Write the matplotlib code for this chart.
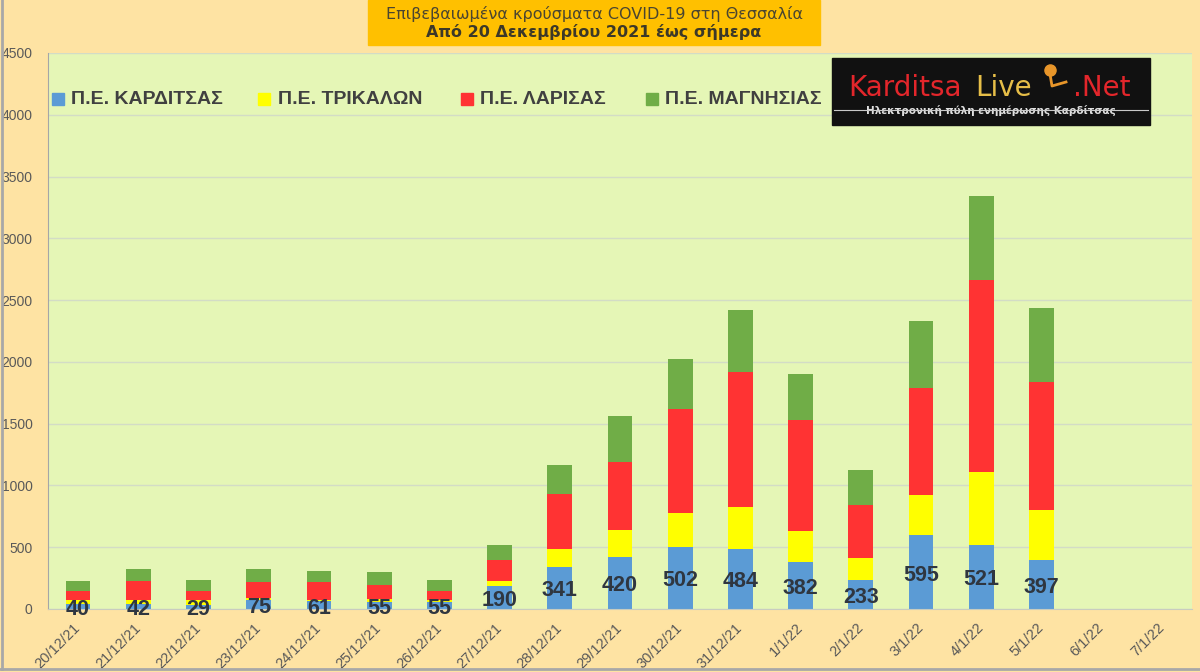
import matplotlib

matplotlib.use("Agg")
import matplotlib.pyplot as plt  # noqa: E402
import numpy as np  # noqa: E402
from matplotlib.patches import Rectangle  # noqa: E402
from matplotlib.lines import Line2D  # noqa: E402

W, H = 1200, 672

dates = ["20/12/21", "21/12/21", "22/12/21", "23/12/21", "24/12/21", "25/12/21",
         "26/12/21", "27/12/21", "28/12/21", "29/12/21", "30/12/21", "31/12/21",
         "1/1/22", "2/1/22", "3/1/22", "4/1/22", "5/1/22", "6/1/22", "7/1/22"]

karditsa = [40, 42, 29, 75, 61, 55, 55, 190, 341, 420, 502, 484, 382, 233, 595, 521, 397]
trikala = [30, 28, 41, 16, 9, 28, 15, 36, 146, 222, 276, 342, 250, 182, 326, 588, 403]
larisa = [73, 156, 73, 127, 148, 114, 73, 167, 442, 548, 837, 1091, 900, 425, 867, 1557, 1034]
magnisia = [83, 94, 94, 102, 92, 102, 94, 121, 234, 371, 412, 506, 372, 288, 541, 678, 600]

series = [("Π.Ε. ΚΑΡΔΙΤΣΑΣ", karditsa, "#5B9BD5"),
          ("Π.Ε. ΤΡΙΚΑΛΩΝ", trikala, "#FFFF00"),
          ("Π.Ε. ΛΑΡΙΣΑΣ", larisa, "#FF3333"),
          ("Π.Ε. ΜΑΓΝΗΣΙΑΣ", magnisia, "#70AD47")]

plt.rcParams["font.family"] = ["Liberation Sans", "DejaVu Sans"]


def fx(x):
    return x / W


def fy(y):
    return 1 - y / H


fig = plt.figure(figsize=(12, 6.72), dpi=100)
fig.patch.set_facecolor("#FEE3A3")

ax = fig.add_axes([fx(48), fy(609), fx(1192 - 48), (609 - 53) / H])
ax.set_facecolor("#E5F6B6")

x = np.arange(len(karditsa))
bottom = np.zeros(len(karditsa))
for name, vals, col in series:
    ax.bar(x, vals, width=0.41, bottom=bottom, color=col, zorder=2)
    bottom += np.array(vals)

for i, v in enumerate(karditsa):
    ax.annotate(str(v), xy=(i, v / 2), xytext=(0, -2), textcoords="offset points",
                ha="center", va="center", fontsize=15.5, fontweight="bold",
                color="#2F3640", zorder=4)

ax.set_xlim(-0.5, len(dates) - 0.5)
ax.set_ylim(0, 4500)
ax.set_yticks(np.arange(0, 4501, 500))
ax.set_xticks(np.arange(len(dates)))
ax.set_xticklabels(dates, rotation=45, ha="right", va="center", rotation_mode="anchor")
ax.tick_params(axis="x", length=0, pad=12, labelsize=10.5, labelcolor="#595959")
ax.tick_params(axis="y", length=0, pad=11, labelsize=10, labelcolor="#595959")
ax.grid(axis="y", color="#D3DCC6", lw=1, zorder=0)
for s in ["top", "right"]:
    ax.spines[s].set_visible(False)
ax.spines["left"].set_color("#A6A6A6")
ax.spines["bottom"].set_color("#C8CCC0")

# legend (manual, placed like the original)
for (name, vals, col), sx, tx in zip(series, [58, 264, 467, 652], [71, 278, 480, 665]):
    fig.patches.append(Rectangle((fx(sx - 6), fy(105)), fx(12), 12 / H,
                                 transform=fig.transFigure, color=col, zorder=3))
    fig.text(fx(tx), fy(99), name, ha="left", va="center", fontsize=14,
             fontweight="bold", color="#404040", zorder=3)

# title box
fig.patches.append(Rectangle((fx(368), fy(45)), fx(452), 45 / H,
                             transform=fig.transFigure, color="#FFC000", zorder=1))
fig.text(fx(594), fy(14), "Επιβεβαιωμένα κρούσματα COVID-19 στη Θεσσαλία",
         ha="center", va="center", fontsize=11.5, color="#4A4530", family="DejaVu Sans")
fig.text(fx(594), fy(32), "Από 20 Δεκεμβρίου 2021 έως σήμερα",
         ha="center", va="center", fontsize=11.5, fontweight="bold", color="#3C3828",
         family="DejaVu Sans")

# logo
fig.patches.append(Rectangle((fx(832), fy(125)), fx(318), 67 / H,
                             transform=fig.transFigure, color="#111111", zorder=3))
fig.text(fx(848), fy(96), "Karditsa", ha="left", va="baseline", fontsize=20,
         color="#E3262B", family="DejaVu Sans", zorder=4)
fig.text(fx(975), fy(96), "Live", ha="left", va="baseline", fontsize=20,
         color="#E6BE48", family="DejaVu Sans", zorder=4)
fig.text(fx(1073), fy(96), ".Net", ha="left", va="baseline", fontsize=20,
         color="#E3262B", family="DejaVu Sans", zorder=4)
fig.lines.append(Line2D([fx(1050)], [fy(70)], transform=fig.transFigure, marker="o",
                        ms=8, color="#E8962A", zorder=5))
fig.lines.append(Line2D([fx(1050), fx(1052), fx(1066)], [fy(74), fy(86), fy(82)],
                        transform=fig.transFigure, color="#E8962A", lw=2, zorder=5))
fig.text(fx(991), fy(110), "Ηλεκτρονική πύλη ενημέρωσης Καρδίτσας", ha="center",
         va="center", fontsize=7.5, fontweight="bold", color="#E0E0E0",
         family="DejaVu Sans", zorder=4)
fig.lines.append(Line2D([fx(834), fx(1148)], [fy(110), fy(110)],
                        transform=fig.transFigure, color="#C8C8C8", lw=0.8, zorder=5))

# outer frame
fig.lines.append(Line2D([fx(2), fx(2)], [fy(0), fy(669)], transform=fig.transFigure,
                        color="#A8A8A8", lw=2))
fig.lines.append(Line2D([fx(0), fx(1200)], [fy(669), fy(669)], transform=fig.transFigure,
                        color="#A8A8A8", lw=2))

fig.savefig("out.png", dpi=100, facecolor=fig.get_facecolor())
